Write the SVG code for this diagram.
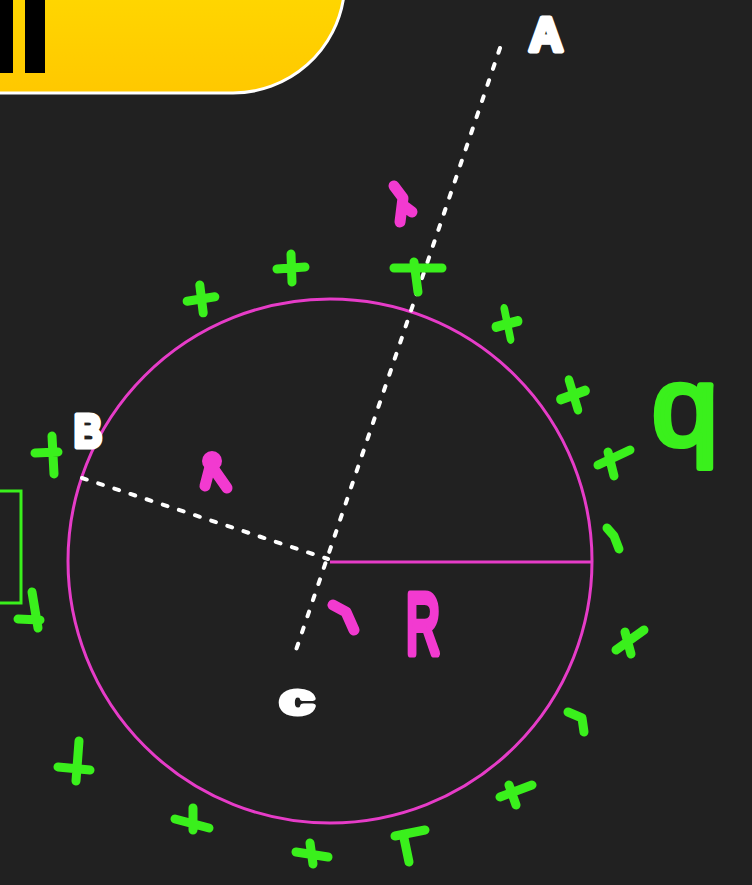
<svg xmlns="http://www.w3.org/2000/svg" width="752" height="885" viewBox="0 0 752 885">
<defs>
<linearGradient id="yg" x1="0" y1="0" x2="0" y2="1">
<stop offset="0" stop-color="#ffd600"/>
<stop offset="1" stop-color="#ffc800"/>
</linearGradient>
<g id="plus"><path d="M-14,1 L14,-1 M0,-14 L1,14"/></g>
</defs>
<style>
.bg{fill:#212121}
.dots{stroke:#ffffff;stroke-width:4;stroke-linecap:round;stroke-dasharray:5 12;fill:none}
.pk{stroke:#e63cc8;stroke-width:3;fill:none}
.pkmark{stroke:#f23ad0;stroke-width:11;stroke-linecap:round;stroke-linejoin:round;fill:none}
.gp{stroke:#3af01c;stroke-width:9;stroke-linecap:round;stroke-linejoin:round;fill:none}
.lbl{font-family:"Liberation Sans",Arial,sans-serif;stroke-linejoin:round;stroke-linecap:round}
.w{fill:#ffffff;stroke:#ffffff;stroke-width:5;font-weight:bold}
.p{fill:#f23ad0;stroke:#f23ad0;stroke-width:8}
.g{fill:#3af01c;stroke:#3af01c;stroke-width:6}
</style>
<rect class="bg" x="0" y="0" width="752" height="885"/>

<g id="banner">
<path d="M-5,-5 H344 A112 112 0 0 1 233 93 H-5 Z" fill="url(#yg)" stroke="#ffffff" stroke-width="3"/>
<rect x="-2" y="-2" width="15" height="75" fill="#000"/>
<rect x="25" y="-2" width="20" height="75" fill="#000"/>
</g>

<g id="charge-box">
<path d="M-5,491 H21 V603 H-5" fill="none" stroke="#3af01c" stroke-width="3"/>
</g>

<g id="sphere">
<circle class="pk" cx="330" cy="561" r="262"/>
</g>

<g id="connectors">
<line class="dots" x1="500" y1="48" x2="294" y2="656"/>
<line class="dots" x1="82" y1="478" x2="328" y2="559"/>
<line class="pk" x1="330" y1="562" x2="592" y2="562"/>
</g>

<g id="charges">
<use href="#plus" class="gp" transform="translate(201,299) rotate(-5)"/>
<use href="#plus" class="gp" transform="translate(291,268)"/>
<path class="gp" d="M394,268 L442,268 M414,262 L418,292"/>
<use href="#plus" class="gp" transform="translate(507,324) rotate(-10) scale(0.85,1.1)"/>
<use href="#plus" class="gp" transform="translate(573,395) rotate(-15) scale(0.95,1.1)"/>
<path class="gp" d="M598,465 L630,450 M608,452 L614,476"/>
<path class="gp" d="M607,528 L614,536 L619,549"/>
<path class="gp" d="M616,650 L644,630 M625,632 L631,654"/>
<path class="gp" d="M568,712 L582,718 L584,732"/>
<path class="gp" d="M500,797 L532,785 M509,785 L516,805"/>
<path class="gp" d="M395,836 L425,830 M404,838 L409,862"/>
<path class="gp" d="M296,852 L328,857 M310,843 L313,864"/>
<path class="gp" d="M175,819 L209,828 M193,808 L193,830"/>
<path class="gp" d="M58,767 L90,770 M79,741 L76,781"/>
<path class="gp" d="M18,619 L40,620 M32,592 L38,628"/>
<path class="gp" d="M35,453 L58,452 M52,436 L54,474"/>
</g>

<g id="marks">
<path class="pkmark" d="M394,186 L403,198 L400,222 M404,206 L412,212"/>
<circle cx="212" cy="461" r="10" fill="#f23ad0"/>
<path class="pkmark" d="M211,463 L205,486 M213,468 L227,488"/>
<path class="pkmark" d="M333,605 L346,612 L354,630"/>
</g>

<g id="labels">
<text class="lbl w" x="529" y="51" font-size="48" textLength="34" lengthAdjust="spacingAndGlyphs">A</text>
<text class="lbl w" x="74" y="447" font-size="46" textLength="28" lengthAdjust="spacingAndGlyphs">B</text>
<text class="lbl w" x="280" y="714" font-size="42" textLength="34" lengthAdjust="spacingAndGlyphs">c</text>
<text class="lbl p" x="406" y="653" font-size="86" textLength="34" lengthAdjust="spacingAndGlyphs">R</text>
<text class="lbl g" x="652" y="445" font-size="112" textLength="66" lengthAdjust="spacingAndGlyphs">q</text>
</g>
</svg>
